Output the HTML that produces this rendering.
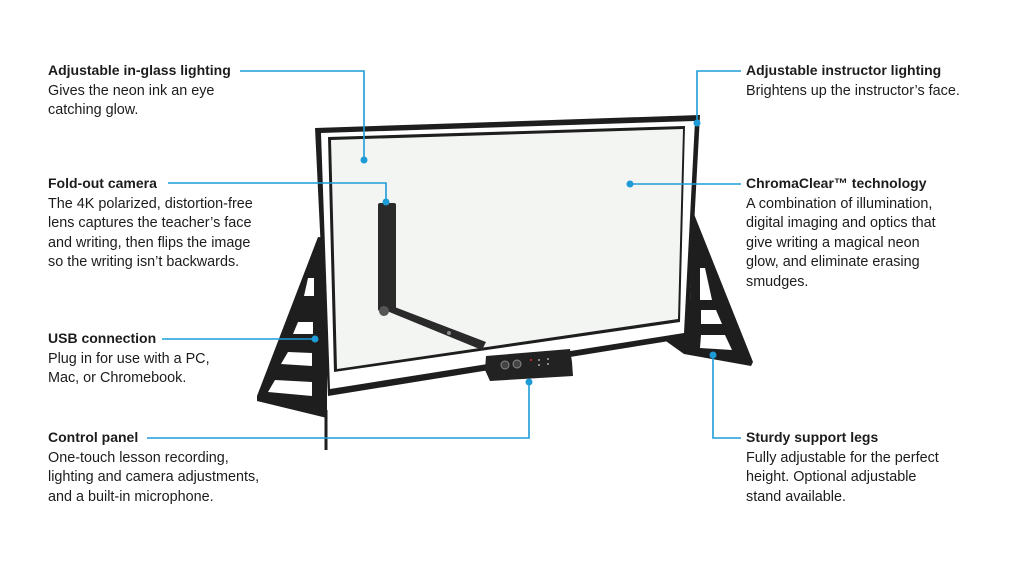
<!DOCTYPE html>
<html><head><meta charset="utf-8"><style>
html,body{margin:0;padding:0;background:#fff;}
svg{display:block}
text{font-family:"Liberation Sans",Arial,sans-serif;font-size:14.4px;fill:#1c1c1c}
.b{font-weight:bold;font-size:14px}
</style></head><body>
<svg width="1024" height="564" viewBox="0 0 1024 564" xmlns="http://www.w3.org/2000/svg">
<rect width="1024" height="564" fill="#fff"/>
<!-- left leg -->
<polygon points="318,237 327,238 327,418 257,401 257,396" fill="#1e1e1e"/>
<line x1="326" y1="410" x2="326" y2="450" stroke="#1e1e1e" stroke-width="3"/>
<polygon points="298,322 313,322 313,334 293,334" fill="#fff"/>
<polygon points="288,352 312,353 312,366 281,364" fill="#fff"/>
<polygon points="275,380 312,382 312,396 268,392" fill="#fff"/>
<polygon points="308,278 314,278 314,296 304,296" fill="#fff"/>
<!-- right leg -->
<polygon points="694,214 753,362 751,366 684,354 663,339 690,300" fill="#1e1e1e"/>
<polygon points="700,268 705,268 712,300 700,300" fill="#fff"/>
<polygon points="701,310 716,310 722,324 701,324" fill="#fff"/>
<polygon points="701,335 725,335 732,350 700,348" fill="#fff"/>
<!-- frame -->
<polygon points="315,128 700,115 688,338 328,396" fill="#1e1e1e"/>
<polygon points="321,133 695,121 684,333 330,389" fill="#fff"/>
<polygon points="328,137 685,126 680,322 334,372" fill="#1e1e1e"/>
<polygon points="331,140 683,129 678,319 337,369" fill="#f3f5f3"/>
<!-- camera arm -->
<polygon points="382,309 392,306 486,342 482,350" fill="#2a2a2a"/>
<rect x="378" y="203" width="18" height="108" rx="2" fill="#2a2a2a"/>
<circle cx="384" cy="311" r="5" fill="#555"/>
<circle cx="449" cy="333" r="2" fill="#888"/>
<!-- control panel -->
<polygon points="486,356 570,349 572,362 573,376 490,381 485,370" fill="#222"/>
<circle cx="505" cy="365" r="4" fill="#444" stroke="#888"/>
<circle cx="517" cy="364" r="4" fill="#444" stroke="#888"/>
<circle cx="531" cy="360" r="1" fill="#d33"/>
<circle cx="539" cy="360" r="1" fill="#aaa"/><circle cx="539" cy="365" r="1" fill="#aaa"/>
<circle cx="548" cy="359" r="1" fill="#aaa"/><circle cx="548" cy="364" r="1" fill="#aaa"/>
<!-- connectors -->
<g stroke="#1e9bd7" stroke-width="1.6" fill="none">
<polyline points="240,71 364,71 364,160"/>
<polyline points="741,71 697,71 697,123"/>
<polyline points="168,183 386,183 386,202"/>
<polyline points="630,184 741,184"/>
<polyline points="162,339 315,339"/>
<polyline points="147,438 529,438 529,382"/>
<polyline points="713,355 713,438 741,438"/>
</g>
<g fill="#1e9bd7">
<circle cx="364" cy="160" r="3.5"/><circle cx="697" cy="123" r="3.5"/>
<circle cx="386" cy="202" r="3.5"/><circle cx="630" cy="184" r="3.5"/>
<circle cx="315" cy="339" r="3.5"/><circle cx="529" cy="382" r="3.5"/>
<circle cx="713" cy="355" r="3.5"/>
</g>
<!-- left texts -->
<text x="48" y="75" class="b">Adjustable in-glass lighting</text>
<text x="48" y="95">Gives the neon ink an eye</text>
<text x="48" y="114">catching glow.</text>
<text x="48" y="188" class="b">Fold-out camera</text>
<text x="48" y="208">The 4K polarized, distortion-free</text>
<text x="48" y="227">lens captures the teacher’s face</text>
<text x="48" y="247">and writing, then flips the image</text>
<text x="48" y="266">so the writing isn’t backwards.</text>
<text x="48" y="343" class="b">USB connection</text>
<text x="48" y="363">Plug in for use with a PC,</text>
<text x="48" y="382">Mac, or Chromebook.</text>
<text x="48" y="442" class="b">Control panel</text>
<text x="48" y="462">One-touch lesson recording,</text>
<text x="48" y="481">lighting and camera adjustments,</text>
<text x="48" y="501">and a built-in microphone.</text>
<!-- right texts -->
<text x="746" y="75" class="b">Adjustable instructor lighting</text>
<text x="746" y="95">Brightens up the instructor’s face.</text>
<text x="746" y="188" class="b">ChromaClear™ technology</text>
<text x="746" y="208">A combination of illumination,</text>
<text x="746" y="227">digital imaging and optics that</text>
<text x="746" y="247">give writing a magical neon</text>
<text x="746" y="266">glow, and eliminate erasing</text>
<text x="746" y="286">smudges.</text>
<text x="746" y="442" class="b">Sturdy support legs</text>
<text x="746" y="462">Fully adjustable for the perfect</text>
<text x="746" y="481">height. Optional adjustable</text>
<text x="746" y="501">stand available.</text>
</svg>
</body></html>
